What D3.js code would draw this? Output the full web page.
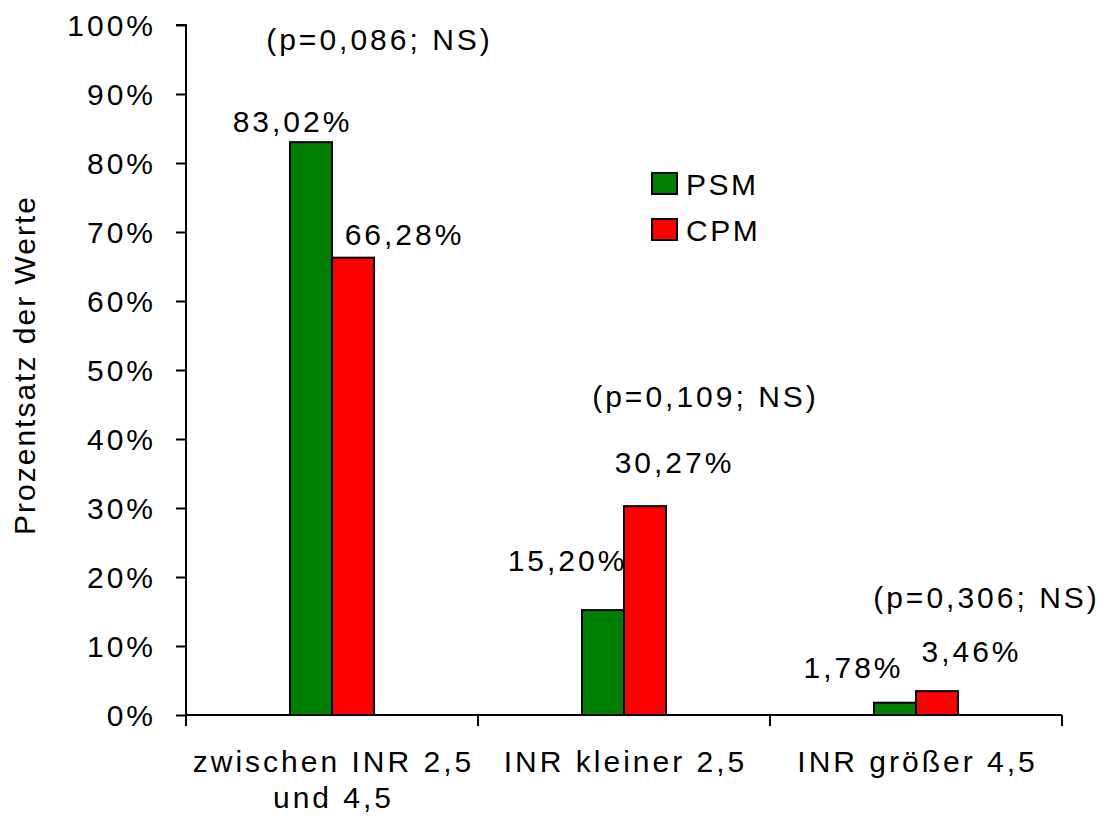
<!DOCTYPE html>
<html><head><meta charset="utf-8">
<script src="https://cdn.jsdelivr.net/npm/d3@7"></script>
<style>body{margin:0;background:#fff}svg text{font-family:"Liberation Sans",Arial,sans-serif;fill:#000}</style>
</head><body><svg id="c" width="1105" height="818"></svg>
<script>
const categories = [["zwischen INR 2,5","und 4,5"],["INR kleiner 2,5"],["INR größer 4,5"]];
const seriesNames = ["PSM","CPM"];
const seriesColors = ["#008000","#ff0000"];
const psmValues = [0.8302, 0.1520, 0.0178];
const cpmValues = [0.6628, 0.3027, 0.0346];
const valueLabels = [["83,02%","15,20%","1,78%"],["66,28%","30,27%","3,46%"]];
const pLabels = ["(p=0,086; NS)","(p=0,109; NS)","(p=0,306; NS)"];
const yTicks = [0,0.1,0.2,0.3,0.4,0.5,0.6,0.7,0.8,0.9,1.0];
const yTitle = "Prozentsatz der Werte";

// layout (manual label offsets relative to bar centre / top)
const labelOffsets = [[[-20,-10],[-37,-39],[-43,-25]],[[50,-13],[28,-33],[33,-29]]];
const pOffsets = [[46,50],[80,407],[69,608]];

const FS = 30, LS = 3;
const svg = d3.select("#c");
const keys = categories.map((c,i)=>i);
const x = d3.scaleBand().domain(keys).range([186,1062]);
const xi = d3.scaleBand().domain([0,1]).range([0,84]);
const y = d3.scaleLinear().domain([0,1]).range([715,25]);
const data = [psmValues, cpmValues];
const cx = i => x(i) + x.bandwidth()/2;

// bars
data.forEach((vals,s)=>{
  svg.append("g").selectAll("rect").data(vals).join("rect")
    .attr("x",(d,i)=>cx(i)-42+xi(s)).attr("width",xi.bandwidth())
    .attr("y",d=>y(d)).attr("height",d=>y(0)-y(d))
    .attr("fill",seriesColors[s]).attr("stroke","#000").attr("stroke-width",2);
});

// y axis
const ya = svg.append("g").attr("transform","translate(186,0)")
  .call(d3.axisLeft(y).tickValues(yTicks).tickFormat(d3.format(".0%")).tickSize(10).tickPadding(20));
ya.select(".domain").attr("stroke-width",2).attr("d","M-10,25H0V715");
ya.selectAll(".tick line").attr("stroke-width",2);
ya.selectAll("text").attr("font-size",FS).attr("letter-spacing",LS).attr("font-family",null).attr("dy","0.36em");

// x axis
const xa = svg.append("g").attr("transform","translate(0,715)");
xa.append("line").attr("x1",186).attr("x2",1062).attr("stroke","#000").attr("stroke-width",2);
xa.selectAll("line.t").data([...keys.map(k=>x(k)), x(keys[keys.length-1])+x.bandwidth()]).join("line")
  .attr("class","t").attr("x1",d=>d).attr("x2",d=>d).attr("y1",0).attr("y2",11)
  .attr("stroke","#000").attr("stroke-width",2);
categories.forEach((lines,i)=>{
  const t = xa.append("text").attr("text-anchor","middle").attr("font-size",FS).attr("letter-spacing",LS);
  lines.forEach((ln,j)=>t.append("tspan").attr("x",cx(i)+LS/2).attr("y",57+j*36).text(ln));
});

// y title
svg.append("text").attr("transform","translate(35,365) rotate(-90)").attr("text-anchor","middle")
  .attr("font-size",FS).attr("letter-spacing",2).text(yTitle);

// value labels
data.forEach((vals,s)=>{
  vals.forEach((v,i)=>{
    const o = labelOffsets[s][i];
    svg.append("text").attr("text-anchor","middle").attr("font-size",FS).attr("letter-spacing",LS)
      .attr("x",cx(i)-42+xi(s)+xi.bandwidth()/2+o[0]+LS/2).attr("y",y(v)+o[1]).text(valueLabels[s][i]);
  });
});

// p labels
pLabels.forEach((p,i)=>{
  svg.append("text").attr("text-anchor","middle").attr("font-size",FS).attr("letter-spacing",LS)
    .attr("x",cx(i)+pOffsets[i][0]+LS/2).attr("y",pOffsets[i][1]).text(p);
});

// legend
const lg = svg.append("g").attr("transform","translate(652,173)");
seriesNames.forEach((n,s)=>{
  lg.append("rect").attr("x",0).attr("y",s*46).attr("width",25).attr("height",21)
    .attr("fill",seriesColors[s]).attr("stroke","#000").attr("stroke-width",2);
  lg.append("text").attr("x",34).attr("y",s*46+22).attr("font-size",FS).attr("letter-spacing",2.5).text(n);
});
</script></body></html>
